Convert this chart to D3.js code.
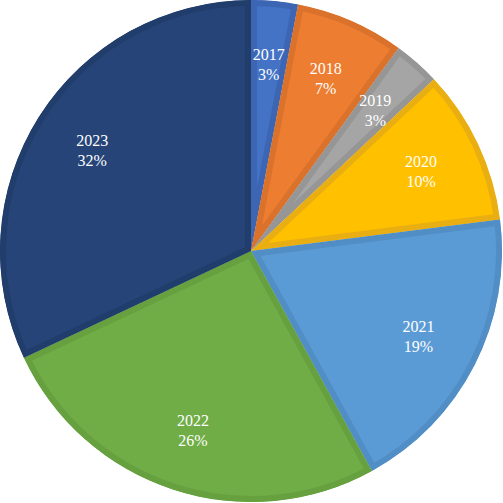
<!DOCTYPE html>
<html>
<head>
<meta charset="utf-8">
<script src="https://cdn.jsdelivr.net/npm/d3@7"></script>
<style>
body { margin: 0; background: #fff; }
svg { display: block; }
</style>
</head>
<body>
<svg width="503" height="503"></svg>
<script>
var years = ['2017', '2018', '2019', '2020', '2021', '2022', '2023'];
var shares = [3, 7, 3, 10, 19, 26, 32];
var fills = ['#4472C4', '#ED7D31', '#A5A5A5', '#FFC000', '#5B9BD5', '#70AD47', '#264478'];
var borders = ['#3C66B3', '#DB722C', '#969696', '#E9AF12', '#528EC6', '#66A03F', '#213D6C'];

var w = 503, h = 503;
var cx = 251, cy = 251, r = 251;

var svg = d3.select('svg');
var g = svg.append('g').attr('transform', 'translate(' + cx + ',' + cy + ')');

var data = years.map(function(y, i) { return {year: y, value: shares[i], i: i}; });

var pie = d3.pie().sort(null).value(function(d) { return d.value; });
var arc = d3.arc().innerRadius(0).outerRadius(r);
var labelArc = d3.arc().innerRadius(188).outerRadius(188);

var arcs = pie(data);

var defs = svg.append('defs');
defs.selectAll('clipPath').data(arcs).enter().append('clipPath')
	.attr('id', function(d) { return 'clip' + d.data.i; })
	.append('path')
	.attr('d', arc);

var slices = g.selectAll('g.slice').data(arcs).enter().append('g').attr('class', 'slice');
slices.append('path')
	.attr('d', arc)
	.attr('fill', function(d) { return fills[d.data.i]; })
	.attr('stroke', function(d) { return borders[d.data.i]; })
	.attr('stroke-width', 12)
	.attr('stroke-linejoin', 'miter')
	.attr('clip-path', function(d) { return 'url(#clip' + d.data.i + ')'; });

var labels = g.selectAll('text.lbl').data(arcs).enter().append('text')
	.attr('class', 'lbl')
	.attr('transform', function(d) { return 'translate(' + labelArc.centroid(d) + ')'; })
	.attr('text-anchor', 'middle')
	.attr('font-family', 'Liberation Serif, Times New Roman, serif')
	.attr('font-size', 16)
	.attr('fill', '#fff');
labels.append('tspan').attr('x', 0).attr('dy', '-0.25em').text(function(d) { return d.data.year; });
labels.append('tspan').attr('x', 0).attr('dy', '1.25em').text(function(d) { return d.data.value + '%'; });
</script>
</body>
</html>
